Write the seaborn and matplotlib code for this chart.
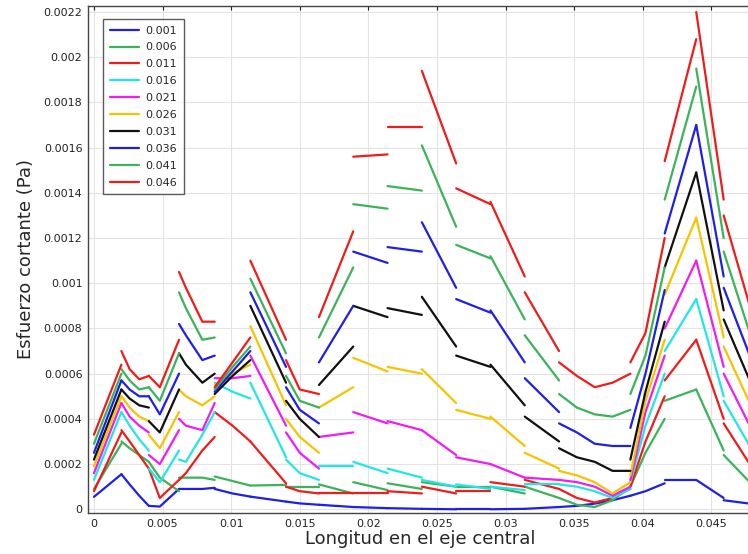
import numpy as np
import pandas as pd
import matplotlib
matplotlib.use("Agg")
import matplotlib.pyplot as plt
from matplotlib.lines import Line2D
from matplotlib.ticker import FuncFormatter, MultipleLocator
import seaborn as sns

# x positions of the points of each mesh segment (lines break between segments)
seg_x = [
    [0.0, 0.002],
    [0.002, 0.0026, 0.0033, 0.004],
    [0.004, 0.0048, 0.0062],
    [0.0062, 0.0067, 0.0079, 0.0088],
    [0.0088, 0.0101, 0.0114],
    [0.0114, 0.014],
    [0.014, 0.015, 0.0164],
    [0.0164, 0.0189],
    [0.0189, 0.0214],
    [0.0214, 0.0239],
    [0.0239, 0.0264],
    [0.0264, 0.0289],
    [0.0289, 0.0314],
    [0.0314, 0.0339],
    [0.0339, 0.0352, 0.0365, 0.0378, 0.0391],
    [0.0391, 0.0402, 0.0416],
    [0.0416, 0.0439],
    [0.0439, 0.0459],
    [0.0459, 0.0478],
]

# values in units of 1e-4 Pa, one list per segment
v_0001 = [[0.55, 1.55], [1.55, 1.1, 0.6, 0.15], [0.15, 0.12, 0.9], [0.9, 0.9, 0.9, 0.95],
          [0.9, 0.7, 0.56], [0.56, 0.34], [0.34, 0.26, 0.2], [0.2, 0.1], [0.1, 0.05],
          [0.05, 0.02], [0.02, 0.0], [0.0, 0.0], [0.0, 0.02], [0.02, 0.1],
          [0.1, 0.15, 0.25, 0.4, 0.6], [0.6, 0.8, 1.15], [1.3, 1.3], [1.3, 0.5], [0.4, 0.25]]
v_0006 = [[0.9, 2.9], [3.0, 2.7, 2.4, 2.1], [2.1, 1.4, 0.8], [1.4, 1.4, 1.4, 1.3],
          [1.45, 1.25, 1.05], [1.05, 1.08], [1.0, 1.0, 1.0], [1.1, 0.7], [1.2, 0.85],
          [1.15, 0.9], [1.2, 1.0], [1.0, 1.0], [1.0, 0.7], [1.0, 0.5],
          [0.5, 0.2, 0.1, 0.4, 1.0], [1.0, 2.5, 4.0], [4.8, 5.3], [5.3, 2.6], [2.4, 1.2]]
v_0011 = [[0.8, 3.4], [3.5, 3.0, 2.4, 1.8], [1.8, 0.5, 1.3], [1.3, 1.6, 2.6, 3.2],
          [4.3, 3.7, 3.0], [3.0, 1.15], [1.0, 0.8, 0.7], [0.7, 0.7], [0.7, 0.7],
          [0.8, 0.7], [1.0, 0.7], [0.8, 0.8], [1.2, 1.0], [1.3, 0.9],
          [0.9, 0.5, 0.3, 0.5, 0.9], [1.0, 3.0, 5.0], [5.7, 7.5], [7.5, 4.0], [3.8, 2.0]]
v_0016 = [[1.3, 4.3], [4.3, 3.7, 3.1, 2.6], [1.8, 1.2, 2.6], [2.2, 2.1, 3.3, 4.3],
          [5.6, 5.2, 4.9], [5.6, 2.3], [2.2, 1.6, 1.3], [1.9, 1.9], [2.1, 1.6],
          [1.8, 1.4], [1.3, 1.0], [1.1, 0.9], [1.0, 0.85], [1.1, 1.1],
          [1.1, 1.0, 0.8, 0.5, 0.9], [1.2, 3.7, 6.0], [7.0, 9.3], [9.3, 5.0], [4.8, 2.8]]
v_0021 = [[1.6, 4.7], [4.7, 4.1, 3.7, 3.4], [2.4, 2.0, 3.5], [4.0, 3.7, 3.5, 4.7],
          [5.8, 5.8, 5.9], [6.8, 3.7], [3.4, 2.5, 1.8], [3.2, 3.4], [4.3, 3.8],
          [3.9, 3.5], [3.5, 2.4], [2.3, 2.0], [2.0, 1.4], [1.4, 1.3],
          [1.3, 1.2, 1.0, 0.6, 1.0], [1.3, 4.3, 6.8], [8.0, 11.0], [11.0, 6.3], [6.0, 3.7]]
v_0026 = [[1.9, 5.0], [5.0, 4.5, 4.1, 3.9], [3.3, 2.7, 4.3], [5.3, 5.0, 4.6, 5.0],
          [5.5, 6.0, 6.4], [8.1, 4.6], [4.0, 3.2, 2.5], [4.5, 5.4], [6.7, 6.1],
          [6.3, 6.0], [6.2, 4.7], [4.4, 4.0], [4.1, 2.8], [2.5, 1.8],
          [1.7, 1.5, 1.2, 0.7, 1.2], [1.5, 4.8, 7.5], [9.5, 12.9], [12.9, 7.6], [7.2, 4.7]]
v_0031 = [[2.2, 5.3], [5.3, 4.9, 4.6, 4.5], [3.9, 3.4, 5.3], [6.9, 6.4, 5.6, 6.0],
          [5.1, 5.9, 6.6], [9.0, 5.6], [4.8, 4.0, 3.2], [5.5, 7.2], [9.0, 8.5],
          [8.9, 8.6], [9.4, 7.2], [6.8, 6.3], [6.4, 4.6], [4.1, 3.0],
          [2.7, 2.3, 2.1, 1.7, 1.7], [2.2, 5.2, 8.3], [10.7, 14.9], [14.9, 8.8], [8.4, 5.7]]
v_0036 = [[2.5, 5.7], [5.7, 5.3, 5.0, 5.0], [5.0, 4.2, 6.0], [8.2, 7.7, 6.6, 6.8],
          [5.2, 6.1, 7.0], [9.6, 6.3], [5.4, 4.4, 3.8], [6.5, 9.0], [11.4, 10.9],
          [11.6, 11.4], [12.7, 9.8], [9.3, 8.7], [8.8, 6.5], [5.8, 4.3],
          [3.8, 3.4, 2.9, 2.8, 2.8], [3.6, 6.0, 9.7], [12.2, 17.0], [17.0, 10.3], [9.8, 6.8]]
v_0041 = [[2.9, 6.0], [6.2, 5.7, 5.3, 5.4], [5.4, 4.8, 6.9], [9.6, 8.9, 7.5, 7.6],
          [5.3, 6.3, 7.2], [10.2, 6.9], [5.9, 4.8, 4.5], [7.6, 10.7], [13.5, 13.3],
          [14.3, 14.1], [16.1, 12.5], [11.7, 11.1], [11.2, 8.4], [7.7, 5.7],
          [5.1, 4.5, 4.2, 4.1, 4.4], [5.1, 6.8, 10.7], [13.7, 18.7], [19.5, 12.0], [11.4, 7.8]]
v_0046 = [[3.3, 6.4], [7.0, 6.2, 5.75, 5.9], [5.9, 5.4, 7.5], [10.5, 9.8, 8.3, 8.3],
          [5.4, 6.5, 7.6], [11.0, 7.5], [6.6, 5.3, 5.1], [8.5, 12.3], [15.6, 15.7],
          [16.9, 16.9], [19.4, 15.3], [14.2, 13.5], [13.6, 10.3], [9.6, 7.0],
          [6.5, 5.9, 5.4, 5.6, 6.0], [6.5, 7.8, 12.0], [15.4, 20.8], [22.0, 13.7], [13.0, 9.0]]

labels = ["0.001", "0.006", "0.011", "0.016", "0.021",
          "0.026", "0.031", "0.036", "0.041", "0.046"]
series = [v_0001, v_0006, v_0011, v_0016, v_0021,
          v_0026, v_0031, v_0036, v_0041, v_0046]
colors = ["#1f1fe6", "#3cb35a", "#f01c1c", "#22e6e6", "#f01cf0",
          "#f5c400", "#111111", "#1f1fe6", "#3cb35a", "#f01c1c"]
x_ticks = [0, 0.005, 0.01, 0.015, 0.02, 0.025, 0.03, 0.035, 0.04, 0.045]
y_ticks = [0, 0.0002, 0.0004, 0.0006, 0.0008, 0.001, 0.0012, 0.0014,
           0.0016, 0.0018, 0.002, 0.0022]
SCALE = 1e-4

rows = []
for lab, vals in zip(labels, series):
    for si, (xs, ys) in enumerate(zip(seg_x, vals)):
        for xv, yv in zip(xs, ys):
            rows.append({"x": xv, "y": yv * SCALE, "serie": lab, "seg": si})
df = pd.DataFrame(rows)

sns.set_style("white")
plt.rcParams["font.family"] = ["DejaVu Sans"]

fig = plt.figure(figsize=(7.48, 5.54), dpi=100)
ax = fig.add_axes([0.1176, 0.0735, 0.8873, 0.9162])

palette = dict(zip(labels, colors))
sns.lineplot(data=df, x="x", y="y", hue="serie", units="seg", estimator=None,
             sort=False, palette=palette, hue_order=labels, linewidth=1.6,
             legend=False, ax=ax)

ax.set_xlim(-0.000437, 0.04794)
ax.set_ylim(-0.0000177, 0.002228)
ax.set_xticks(x_ticks)
ax.set_yticks(y_ticks)
fmt = FuncFormatter(lambda v, p: "%g" % round(v, 6))
ax.xaxis.set_major_formatter(fmt)
ax.yaxis.set_major_formatter(fmt)
ax.grid(True, color="#e3e3e3", linewidth=0.8)
ax.tick_params(direction="in", length=3, width=0.8, top=True, right=True,
               labelsize=8, colors="#222222", pad=4)
for s in ax.spines.values():
    s.set_color("#444444")
    s.set_linewidth(1.0)

ax.set_xlabel("Longitud en el eje central", fontsize=13, labelpad=1)
ax.set_ylabel("Esfuerzo cortante (Pa)", fontsize=13, labelpad=6)

handles = [Line2D([0], [0], color=c, lw=1.6) for c in colors]
leg = ax.legend(handles, labels, loc="upper left", bbox_to_anchor=(0.015, 0.985),
                fontsize=8, frameon=True, fancybox=False, handlelength=2.6,
                labelspacing=0.62, borderpad=0.6, handletextpad=0.6)
leg.get_frame().set_edgecolor("#333333")
leg.get_frame().set_linewidth(1.0)

fig.savefig("out.png", dpi=100)
